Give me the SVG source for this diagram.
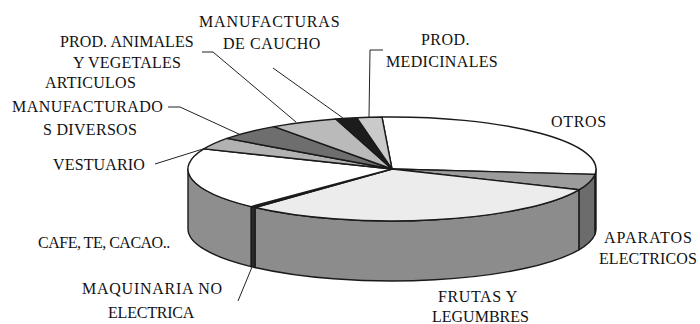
<svg xmlns="http://www.w3.org/2000/svg" width="700" height="324" viewBox="0 0 700 324">
<style>
.e{stroke:#1a1a1a;stroke-width:1.4;stroke-linejoin:round;}
.t{font-family:"Liberation Serif","Times New Roman",serif;font-size:16px;fill:#111111;}
</style>
<rect width="700" height="324" fill="#ffffff"/>
<g id="otros">
<path class="e" fill="#b4b4b4" d="M596 169 A204 52 0 0 1 594.9 174.4 L594.9 234.4 A204 52 0 0 0 596 229 Z"/>
<path class="e" fill="#ffffff" d="M392 169 L382 117.06 A204 52 0 0 1 594.9 174.4 Z"/>
<text class="t" x="551" y="127" letter-spacing="0.7">OTROS</text>
</g>
<g id="aparatos-electricos">
<path class="e" fill="#6c6c6c" d="M594.9 174.4 A204 52 0 0 1 578.9 189.8 L578.9 249.8 A204 52 0 0 0 594.9 234.4 Z"/>
<path class="e" fill="#9c9c9c" d="M392 169 L594.9 174.4 A204 52 0 0 1 578.9 189.8 Z"/>
<text class="t" x="604" y="243" letter-spacing="1">APARATOS</text>
<text class="t" x="599" y="264" letter-spacing="0.1">ELECTRICOS</text>
</g>
<g id="frutas-legumbres">
<path class="e" fill="#8c8c8c" d="M578.9 189.8 A204 52 0 0 1 254.97 207.5 L254.97 267.5 A204 52 0 0 0 578.9 249.8 Z"/>
<path class="e" fill="#ececec" d="M392 169 L578.9 189.8 A204 52 0 0 1 254.97 207.5 Z"/>
<text class="t" x="438" y="302" letter-spacing="0.6">FRUTAS Y</text>
<text class="t" x="432" y="322">LEGUMBRES</text>
</g>
<g id="maquinaria-no-electrica">
<path class="e" fill="#2a2a2a" d="M254.97 207.5 A204 52 0 0 1 251.06 206.6 L251.06 266.6 A204 52 0 0 0 254.97 267.5 Z"/>
<path class="e" fill="#2a2a2a" d="M392 169 L254.97 207.5 A204 52 0 0 1 251.06 206.6 Z"/>
<text class="t" x="82" y="294" letter-spacing="0.75">MAQUINARIA NO</text>
<text class="t" x="108" y="318" letter-spacing="-0.2">ELECTRICA</text>
</g>
<g id="cafe-te-cacao">
<path class="e" fill="#8e8e8e" d="M251.06 206.6 A204 52 0 0 1 188 169 L188 229 A204 52 0 0 0 251.06 266.6 Z"/>
<path class="e" fill="#ffffff" d="M392 169 L251.06 206.6 A204 52 0 0 1 203.9 148.85 Z"/>
<text class="t" x="38" y="248" letter-spacing="-0.5">CAFE, TE, CACAO..</text>
</g>
<g id="vestuario">
<path class="e" fill="#b2b2b2" d="M392 169 L203.9 148.85 A204 52 0 0 1 226.96 138.4 Z"/>
<text class="t" x="53" y="170" letter-spacing="0.15">VESTUARIO</text>
</g>
<g id="articulos-manufacturados">
<path class="e" fill="#6e6e6e" d="M392 169 L226.96 138.4 A204 52 0 0 1 274.1 126.6 Z"/>
<text class="t" x="45" y="88" letter-spacing="0.25">ARTICULOS</text>
<text class="t" x="12" y="112" letter-spacing="0.45">MANUFACTURADO</text>
<text class="t" x="43" y="135" letter-spacing="0.3">S DIVERSOS</text>
</g>
<g id="prod-animales-vegetales">
<path class="e" fill="#bababa" d="M392 169 L274.1 126.6 A204 52 0 0 1 335.8 119 Z"/>
<text class="t" x="60" y="47" letter-spacing="0.1">PROD. ANIMALES</text>
<text class="t" x="73" y="68" letter-spacing="0.2">Y VEGETALES</text>
</g>
<g id="manufacturas-caucho">
<path class="e" fill="#1c1c1c" d="M392 169 L335.8 119 A204 52 0 0 1 356.9 117.8 Z"/>
<text class="t" x="199" y="27" letter-spacing="0.85">MANUFACTURAS</text>
<text class="t" x="223" y="49" letter-spacing="0.55">DE CAUCHO</text>
</g>
<g id="prod-medicinales">
<path class="e" fill="#cacaca" d="M392 169 L356.9 117.8 A204 52 0 0 1 382 117.06 Z"/>
<text class="t" x="421" y="45" letter-spacing="0.45">PROD.</text>
<text class="t" x="386" y="67" letter-spacing="0.33">MEDICINALES</text>
</g>
<g id="connectors" stroke="#222222" stroke-width="1" fill="none">
<polyline points="273,68 343,118"/>
<polyline points="202,52 213,52 296,122"/>
<polyline points="168,107 180,107 241,135"/>
<polyline points="155,164 206,148"/>
<polyline points="383,50 370,50 369,117"/>
<polyline points="238,301 252,267"/>
</g>
</svg>
